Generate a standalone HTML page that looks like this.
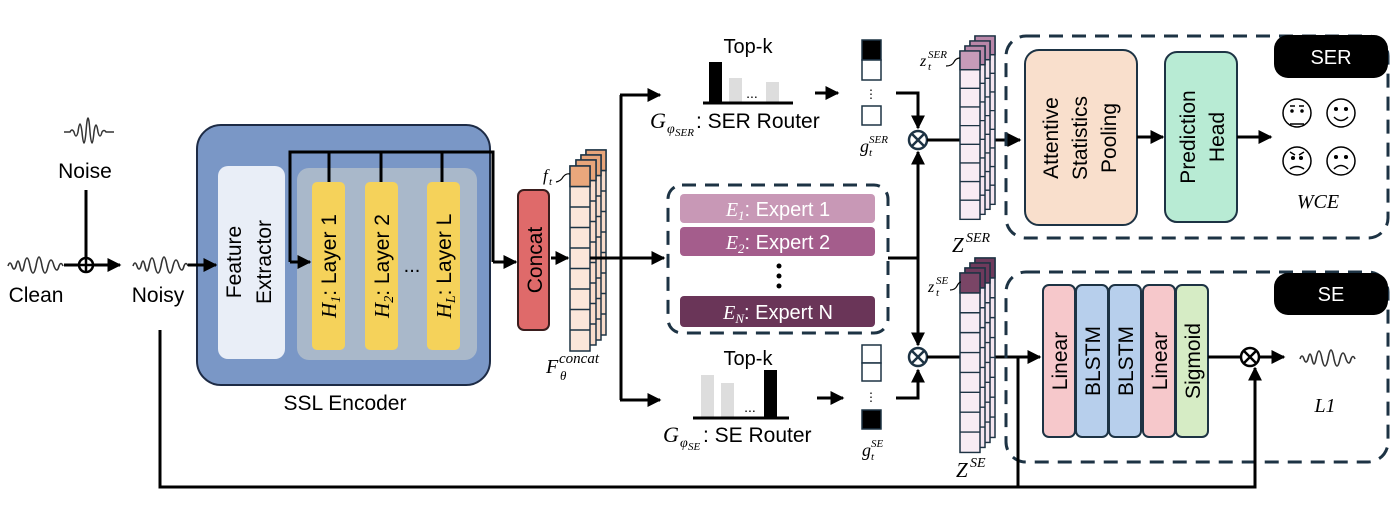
<!DOCTYPE html>
<html><head><meta charset="utf-8"><style>
html,body{margin:0;padding:0;background:#fff;}
svg{display:block;font-family:"Liberation Sans",sans-serif;}
.s{font-family:"Liberation Serif",serif;font-style:italic;}
</style></head><body>
<svg width="1400" height="511" viewBox="0 0 1400 511" xmlns="http://www.w3.org/2000/svg">
<defs>
<marker id="A" viewBox="0 0 10 10" markerWidth="14" markerHeight="14" refX="9" refY="5" orient="auto" markerUnits="userSpaceOnUse"><path d="M0,0 L10,5 L0,10 Z" fill="#000"/></marker>
<g id="col"><rect x="0" y="0" width="20" height="185" stroke="#1d3344" stroke-width="1.5"/>
<path d="M0,20.5h20M0,41h20M0,61.5h20M0,82h20M0,102.5h20M0,123h20M0,143.5h20M0,164h20" stroke="#1d3344" stroke-width="1.5"/></g>
<path id="wave" d="M0,2 q2,-6 4,0 q2,6 4,0 q2,-10 4,0 q2,10 4,0 q3,-16 6,0 q3,14 6,0 q3,-18 6,0 q3,14 6,0 q3,-12 6,0 q3,8 5,0 q2,-5 4,0" fill="none" stroke="#333" stroke-width="1.6"/>
</defs>

<!-- left inputs -->
<path d="M64,132 h6 q2,-4 4,0 q2,8 4,0 q2,-16 4,0 q2,22 4,0 q2,-28 4,0 q2,22 4,0 q2,-14 4,0 q2,8 4,0 q2,-3 4,0 h8" fill="none" stroke="#333" stroke-width="1.5"/>
<text x="85" y="178" font-size="21" text-anchor="middle">Noise</text>
<line x1="86" y1="190" x2="86" y2="265" stroke="#000" stroke-width="3"/>
<use href="#wave" x="8" y="264"/>
<text x="36" y="302" font-size="21" text-anchor="middle">Clean</text>
<line x1="64" y1="265" x2="120" y2="265" stroke="#000" stroke-width="3" marker-end="url(#A)"/>
<circle cx="86" cy="265" r="7" fill="#fff" stroke="#000" stroke-width="2.5"/>
<path d="M79,265h14M86,258v14" stroke="#000" stroke-width="2.5"/>
<use href="#wave" x="133" y="264"/>
<text x="158" y="302" font-size="21" text-anchor="middle">Noisy</text>

<!-- SSL encoder -->
<rect x="197" y="125" width="293" height="260" rx="24" fill="#7a97c6" stroke="#1d2b45" stroke-width="2"/>
<line x1="188" y1="265" x2="216" y2="265" stroke="#000" stroke-width="3" marker-end="url(#A)"/>
<rect x="218" y="166" width="67" height="193" rx="10" fill="#e9eef7"/>
<text transform="translate(241,262) rotate(-90)" font-size="21" text-anchor="middle">Feature</text>
<text transform="translate(271,262) rotate(-90)" font-size="21" text-anchor="middle">Extractor</text>
<rect x="297" y="168" width="180" height="192" rx="12" fill="#a9b8ca"/>
<rect x="312" y="182" width="33" height="168" rx="5" fill="#f5d25a"/>
<rect x="365" y="182" width="33" height="168" rx="5" fill="#f5d25a"/>
<rect x="427" y="182" width="33" height="168" rx="5" fill="#f5d25a"/>
<text transform="translate(336,266) rotate(-90)" font-size="21" text-anchor="middle"><tspan class="s">H</tspan><tspan class="s" font-size="14" dy="4">1</tspan><tspan dy="-4">: Layer 1</tspan></text>
<text transform="translate(389,266) rotate(-90)" font-size="21" text-anchor="middle"><tspan class="s">H</tspan><tspan class="s" font-size="14" dy="4">2</tspan><tspan dy="-4">: Layer 2</tspan></text>
<text transform="translate(451,266) rotate(-90)" font-size="21" text-anchor="middle"><tspan class="s">H</tspan><tspan class="s" font-size="14" dy="4">L</tspan><tspan dy="-4">: Layer L</tspan></text>
<text x="412" y="272" font-size="20" text-anchor="middle">...</text>
<path d="M290,262V152H493V262" fill="none" stroke="#000" stroke-width="3"/>
<path d="M329,152v30M381,152v30M442,152v30" stroke="#000" stroke-width="3"/>
<line x1="290" y1="262" x2="310" y2="262" stroke="#000" stroke-width="3" marker-end="url(#A)"/>
<line x1="493" y1="262" x2="516" y2="262" stroke="#000" stroke-width="3" marker-end="url(#A)"/>
<text x="345" y="410" font-size="21" text-anchor="middle">SSL Encoder</text>

<!-- concat -->
<rect x="518" y="190" width="31" height="140" rx="6" fill="#df6a6a" stroke="#3a1d1d" stroke-width="2"/>
<text transform="translate(542,260) rotate(-90)" font-size="21" text-anchor="middle">Concat</text>
<line x1="551" y1="258" x2="568" y2="258" stroke="#000" stroke-width="3" marker-end="url(#A)"/>
<g>
<use href="#col" x="586" y="150" fill="#f8dccb"/><rect x="586" y="150" width="20" height="20.5" fill="#e8a57a" stroke="#1d3344" stroke-width="1.5"/>
<use href="#col" x="581" y="155" fill="#f8dccb"/><rect x="581" y="155" width="20" height="20.5" fill="#e8a57a" stroke="#1d3344" stroke-width="1.5"/>
<use href="#col" x="576" y="160" fill="#f8dccb"/><rect x="576" y="160" width="20" height="20.5" fill="#e8a57a" stroke="#1d3344" stroke-width="1.5"/>
<use href="#col" x="570" y="166" fill="#fbe6da"/><rect x="570" y="166" width="20" height="20.5" fill="#eaa77c" stroke="#1d3344" stroke-width="1.5"/>
</g>
<text x="543" y="181" font-size="17" class="s">f</text><text x="549" y="185" font-size="11" class="s">t</text>
<path d="M556,182 q5,-1 7,-5 q3,-4 7,-3" fill="none" stroke="#000" stroke-width="1.2"/>
<text x="546" y="373" font-size="20" class="s">F</text><text x="559" y="363" font-size="15" class="s">concat</text><text x="560" y="380" font-size="13" class="s">θ</text>

<!-- branch -->
<path d="M590,258H621M621,95V400" fill="none" stroke="#000" stroke-width="3"/>
<line x1="620" y1="95" x2="660" y2="95" stroke="#000" stroke-width="3" marker-end="url(#A)"/>
<line x1="621" y1="258" x2="664" y2="258" stroke="#000" stroke-width="3" marker-end="url(#A)"/>
<line x1="620" y1="400" x2="660" y2="400" stroke="#000" stroke-width="3" marker-end="url(#A)"/>

<!-- SER router -->
<text x="748" y="53" font-size="20" text-anchor="middle">Top-k</text>
<rect x="709" y="62" width="13" height="41" fill="#000"/>
<rect x="729" y="78" width="13" height="25" fill="#ddd"/>
<rect x="766" y="82" width="13" height="21" fill="#ddd"/>
<text x="752" y="98" font-size="14" text-anchor="middle">...</text>
<line x1="703" y1="103" x2="793" y2="103" stroke="#000" stroke-width="3"/>
<text x="650" y="128" font-size="22" class="s">G</text><text x="667" y="133" font-size="14" class="s">φ</text><text x="675" y="136" font-size="11" class="s">SER</text>
<text x="696" y="128" font-size="21">: SER Router</text>
<line x1="815" y1="93" x2="838" y2="93" stroke="#000" stroke-width="3" marker-end="url(#A)"/>
<rect x="862" y="40" width="19" height="20" fill="#000" stroke="#1d3344" stroke-width="1.5"/>
<rect x="862" y="60" width="19" height="20" fill="#fff" stroke="#1d3344" stroke-width="1.5"/>
<text x="871" y="98" font-size="12" text-anchor="middle">⋮</text>
<rect x="862" y="106" width="19" height="19" fill="#fff" stroke="#1d3344" stroke-width="1.5"/>
<text x="860" y="152" font-size="18" class="s">g</text><text x="869" y="143" font-size="11" class="s">SER</text><text x="869" y="156" font-size="11" class="s">t</text>
<path d="M896,93H918V128" fill="none" stroke="#000" stroke-width="3" marker-end="url(#A)"/>

<!-- experts -->
<rect x="668" y="185" width="220" height="148" rx="14" fill="none" stroke="#1d3344" stroke-width="3" stroke-dasharray="14,9"/>
<rect x="680" y="194" width="195" height="29" rx="4" fill="#c898b6"/>
<rect x="680" y="227" width="195" height="29" rx="4" fill="#a45d8c"/>
<rect x="680" y="296" width="195" height="31" rx="4" fill="#6a3558"/>
<text x="778" y="216" font-size="20" fill="#fff" text-anchor="middle"><tspan class="s">E</tspan><tspan class="s" font-size="13" dy="4">1</tspan><tspan dy="-4">: Expert 1</tspan></text>
<text x="778" y="249" font-size="20" fill="#fff" text-anchor="middle"><tspan class="s">E</tspan><tspan class="s" font-size="13" dy="4">2</tspan><tspan dy="-4">: Expert 2</tspan></text>
<text x="778" y="319" font-size="20" fill="#fff" text-anchor="middle"><tspan class="s">E</tspan><tspan class="s" font-size="13" dy="4">N</tspan><tspan dy="-4">: Expert N</tspan></text>
<circle cx="779" cy="266" r="2.5"/><circle cx="779" cy="276" r="2.5"/><circle cx="779" cy="286" r="2.5"/>
<path d="M888,258H918" stroke="#000" stroke-width="3"/>
<line x1="918" y1="258" x2="918" y2="152" stroke="#000" stroke-width="3" marker-end="url(#A)"/>
<line x1="918" y1="258" x2="918" y2="345" stroke="#000" stroke-width="3" marker-end="url(#A)"/>

<!-- SE router -->
<text x="748" y="365" font-size="20" text-anchor="middle">Top-k</text>
<rect x="701" y="375" width="13" height="43" fill="#ddd"/>
<rect x="721" y="383" width="13" height="35" fill="#ddd"/>
<rect x="764" y="370" width="13" height="48" fill="#000"/>
<text x="750" y="412" font-size="14" text-anchor="middle">...</text>
<line x1="693" y1="418" x2="789" y2="418" stroke="#000" stroke-width="3"/>
<text x="663" y="442" font-size="22" class="s">G</text><text x="680" y="447" font-size="14" class="s">φ</text><text x="688" y="450" font-size="11" class="s">SE</text>
<text x="703" y="442" font-size="21">: SE Router</text>
<line x1="817" y1="398" x2="843" y2="398" stroke="#000" stroke-width="3" marker-end="url(#A)"/>
<rect x="862" y="345" width="19" height="18" fill="#fff" stroke="#1d3344" stroke-width="1.5"/>
<rect x="862" y="363" width="19" height="18" fill="#fff" stroke="#1d3344" stroke-width="1.5"/>
<text x="871" y="401" font-size="12" text-anchor="middle">⋮</text>
<rect x="862" y="410" width="19" height="19" fill="#000" stroke="#1d3344" stroke-width="1.5"/>
<text x="862" y="456" font-size="18" class="s">g</text><text x="871" y="447" font-size="11" class="s">SE</text><text x="871" y="460" font-size="11" class="s">t</text>
<path d="M896,398H918V370" fill="none" stroke="#000" stroke-width="3" marker-end="url(#A)"/>

<!-- multipliers -->
<g stroke="#1d3344" stroke-width="2.5">
<circle cx="918" cy="140" r="9" fill="#fff"/><path d="M912,134l12,12M924,134l-12,12"/>
<circle cx="918" cy="357" r="9" fill="#fff"/><path d="M912,351l12,12M924,351l-12,12"/>
</g>
<line x1="927" y1="140" x2="1020" y2="140" stroke="#000" stroke-width="3" marker-end="url(#A)"/>
<line x1="927" y1="357" x2="1040" y2="357" stroke="#000" stroke-width="3" marker-end="url(#A)"/>

<!-- Z stacks -->
<g>
<g transform="translate(975,36) scale(1,0.91)"><use href="#col" fill="#f5e6f0"/><rect width="20" height="20.5" fill="#b987a9" stroke="#1d3344" stroke-width="1.5"/></g>
<g transform="translate(970,41) scale(1,0.91)"><use href="#col" fill="#f5e6f0"/><rect width="20" height="20.5" fill="#b987a9" stroke="#1d3344" stroke-width="1.5"/></g>
<g transform="translate(965,46) scale(1,0.91)"><use href="#col" fill="#f5e6f0"/><rect width="20" height="20.5" fill="#b987a9" stroke="#1d3344" stroke-width="1.5"/></g>
<g transform="translate(960,51) scale(1,0.91)"><use href="#col" fill="#f8ecf4"/><rect width="20" height="20.5" fill="#c79bb9" stroke="#1d3344" stroke-width="1.5"/></g>
</g>
<g>
<g transform="translate(975,258) scale(1,0.97)"><use href="#col" fill="#f5e6f0"/><rect width="20" height="20.5" fill="#6e3a5c" stroke="#1d3344" stroke-width="1.5"/></g>
<g transform="translate(970,263) scale(1,0.97)"><use href="#col" fill="#f5e6f0"/><rect width="20" height="20.5" fill="#6e3a5c" stroke="#1d3344" stroke-width="1.5"/></g>
<g transform="translate(965,268) scale(1,0.97)"><use href="#col" fill="#f5e6f0"/><rect width="20" height="20.5" fill="#6e3a5c" stroke="#1d3344" stroke-width="1.5"/></g>
<g transform="translate(960,273) scale(1,0.97)"><use href="#col" fill="#f8ecf4"/><rect width="20" height="20.5" fill="#7a4566" stroke="#1d3344" stroke-width="1.5"/></g>
</g>
<text x="920" y="66" font-size="16" class="s">z</text><text x="928" y="58" font-size="11" class="s">SER</text><text x="928" y="70" font-size="11" class="s">t</text>
<path d="M946,66 q6,0 8,-4 q2,-4 6,-4" fill="none" stroke="#000" stroke-width="1.2"/>
<text x="928" y="292" font-size="16" class="s">z</text><text x="936" y="284" font-size="11" class="s">SE</text><text x="936" y="296" font-size="11" class="s">t</text>
<path d="M950,290 q5,0 7,-4 q2,-4 4,-4" fill="none" stroke="#000" stroke-width="1.2"/>
<text x="952" y="252" font-size="21" class="s">Z</text><text x="966" y="242" font-size="14" class="s">SER</text>
<text x="956" y="477" font-size="21" class="s">Z</text><text x="970" y="467" font-size="14" class="s">SE</text>

<!-- SER head -->
<rect x="1006" y="36" width="382" height="202" rx="20" fill="none" stroke="#1d3344" stroke-width="3" stroke-dasharray="14,9"/>
<rect x="1274" y="35" width="114" height="43" rx="14" fill="#000"/>
<text x="1331" y="64" font-size="20" fill="#fff" text-anchor="middle">SER</text>
<rect x="1025" y="50" width="112" height="175" rx="14" fill="#f9dfcc" stroke="#1d3344" stroke-width="2"/>
<text transform="translate(1058,138) rotate(-90)" font-size="21" text-anchor="middle">Attentive</text>
<text transform="translate(1087,138) rotate(-90)" font-size="21" text-anchor="middle">Statistics</text>
<text transform="translate(1116,138) rotate(-90)" font-size="21" text-anchor="middle">Pooling</text>
<rect x="1165" y="52" width="72" height="170" rx="12" fill="#b8ebd4" stroke="#1d3344" stroke-width="2"/>
<text transform="translate(1195,137) rotate(-90)" font-size="21" text-anchor="middle">Prediction</text>
<text transform="translate(1224,137) rotate(-90)" font-size="21" text-anchor="middle">Head</text>
<line x1="1137" y1="137" x2="1163" y2="137" stroke="#000" stroke-width="3" marker-end="url(#A)"/>
<line x1="1237" y1="137" x2="1271" y2="137" stroke="#000" stroke-width="3" marker-end="url(#A)"/>
<g fill="none" stroke="#000" stroke-width="1.5">
<circle cx="1297" cy="113" r="14"/><path d="M1290,124h14M1290,106h5M1299,106h5"/><circle cx="1292" cy="111" r="1" fill="#000"/><circle cx="1302" cy="111" r="1" fill="#000"/>
<circle cx="1341" cy="113" r="14"/><path d="M1334,117q7,7 14,0"/><circle cx="1336" cy="109" r="1.3" fill="#000"/><circle cx="1346" cy="109" r="1.3" fill="#000"/>
<circle cx="1297" cy="161" r="14"/><path d="M1290,169q7,-5 14,0M1290,152l5,3M1304,152l-5,3"/><circle cx="1293" cy="158" r="1.3" fill="#000"/><circle cx="1301" cy="158" r="1.3" fill="#000"/>
<circle cx="1341" cy="161" r="14"/><path d="M1334,169q7,-7 14,0"/><circle cx="1336" cy="157" r="1.3" fill="#000"/><circle cx="1346" cy="157" r="1.3" fill="#000"/>
</g>
<text x="1318" y="208" font-size="20" class="s" text-anchor="middle">WCE</text>

<!-- SE head -->
<rect x="1006" y="272" width="382" height="190" rx="20" fill="none" stroke="#1d3344" stroke-width="3" stroke-dasharray="14,9"/>
<rect x="1274" y="273" width="114" height="42" rx="14" fill="#000"/>
<text x="1331" y="301" font-size="20" fill="#fff" text-anchor="middle">SE</text>
<g stroke="#1d3344" stroke-width="2">
<rect x="1043" y="285" width="32" height="152" rx="6" fill="#f6c8cb"/>
<rect x="1076" y="285" width="32" height="152" rx="6" fill="#b7cfec"/>
<rect x="1109" y="285" width="32" height="152" rx="6" fill="#b7cfec"/>
<rect x="1143" y="285" width="32" height="152" rx="6" fill="#f6c8cb"/>
<rect x="1176" y="285" width="32" height="152" rx="6" fill="#d6ecc5"/>
</g>
<text transform="translate(1067,361) rotate(-90)" font-size="21" text-anchor="middle">Linear</text>
<text transform="translate(1100,361) rotate(-90)" font-size="21" text-anchor="middle">BLSTM</text>
<text transform="translate(1133,361) rotate(-90)" font-size="21" text-anchor="middle">BLSTM</text>
<text transform="translate(1167,361) rotate(-90)" font-size="21" text-anchor="middle">Linear</text>
<text transform="translate(1200,361) rotate(-90)" font-size="21" text-anchor="middle">Sigmoid</text>
<line x1="1208" y1="357" x2="1241" y2="357" stroke="#000" stroke-width="3"/>
<line x1="1259" y1="357" x2="1284" y2="357" stroke="#000" stroke-width="3" marker-end="url(#A)"/>
<g stroke="#000" stroke-width="2.5"><circle cx="1250" cy="357" r="9" fill="#fff"/><path d="M1244,351l12,12M1256,351l-12,12"/></g>
<use href="#wave" x="1300" y="357"/>
<text x="1325" y="412" font-size="20" class="s" text-anchor="middle">L1</text>

<!-- skip connection -->
<path d="M160,330V487H1255V400" fill="none" stroke="#000" stroke-width="3"/>
<line x1="1255" y1="402" x2="1255" y2="368" stroke="#000" stroke-width="3" marker-end="url(#A)"/>
<path d="M1018,357V487" stroke="#000" stroke-width="3"/>
</svg>
</body></html>
